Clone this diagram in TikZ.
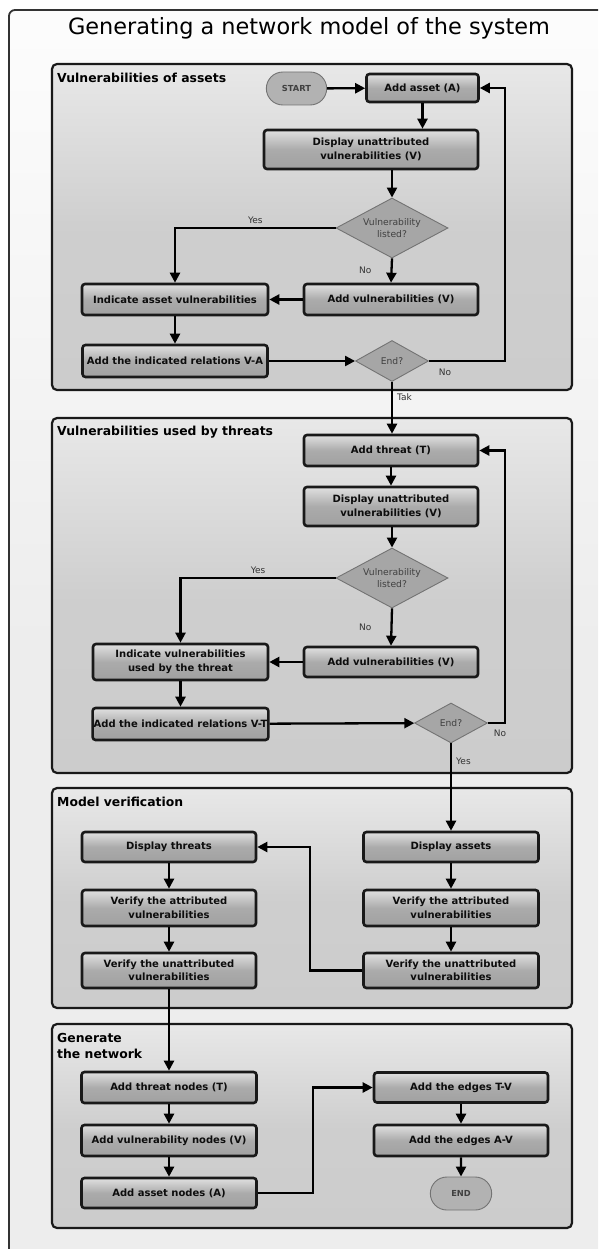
\documentclass[tikz,border=0pt]{standalone}
\usepackage{fontspec}
\setmainfont{DejaVu Sans}
\usetikzlibrary{arrows.meta, positioning, shapes.geometric, shapes.misc}

\begin{document}
\begin{tikzpicture}[x=1pt, y=-1pt,
    frame/.style={draw=black!80, line width=1.8pt, rounded corners=6pt, top color=black!1, bottom color=black!7, middle color=black!7},
    section/.style={draw=black!90, line width=2.2pt, rounded corners=5pt, top color=black!9, bottom color=black!20, middle color=black!19},
    section label/.style={anchor=west, align=left, inner sep=0pt, font=\bfseries\fontsize{12.4}{16}\selectfont},
    task/.style={draw=black!90, line width=2.6pt, rounded corners=3pt, top color=black!12, bottom color=black!37, middle color=black!33,
        align=center, inner xsep=1pt, inner ysep=0pt, text=black!95, font=\bfseries\fontsize{10}{13.5}\selectfont},
    decision/.style={diamond, draw=black!55, line width=0.9pt, fill=black!35, aspect=1.85, inner sep=0pt, align=center,
        text=black!75, font=\fontsize{9.2}{12}\selectfont},
    terminal/.style={rounded rectangle, draw=black!55, line width=0.9pt, fill=black!30, minimum width=67pt, minimum height=33pt,
        text=black!75, font=\bfseries\fontsize{8.3}{10}\selectfont},
    flow/.style={line width=2.3pt, -{Triangle[length=10pt, width=10pt]}},
    answer/.style={inner sep=0pt, text=black!80, font=\fontsize{9}{10}\selectfont}]

    % Page and outer frame
    \useasboundingbox (0,0) rectangle (598,1249);
    \clip (0,0) rectangle (598,1249);
    \fill[white] (0,0) rectangle (598,1249);
    \path[frame] (9,10) rectangle (620,1270);
    \node (title) at (309,28) {\fontsize{22.4}{26}\selectfont Generating a network model of the system};

    % Section frames
    \path[section] (52,64) rectangle (572,390);
    \node[section label] (lab1) at (57,78) {Vulnerabilities of assets};
    \path[section] (52,418) rectangle (572,773);
    \node[section label] (lab2) at (57,432) {Vulnerabilities used by threats};
    \path[section] (52,788) rectangle (572,1008);
    \node[section label] (lab3) at (57,802) {Model verification};
    \path[section] (52,1024) rectangle (572,1228);
    \node[section label] (lab4) at (57,1046) {Generate\\the network};

    % Vulnerabilities of assets
    \node[terminal] (start) at (296.5,88.5) {START};
    \node[task, minimum width=112pt, minimum height=28pt] (addA) at (422.5,88) {Add asset (A)};
    \node[task, minimum width=214pt, minimum height=39pt] (dispV1) at (371,149.5) {Display unattributed\\vulnerabilities (V)};
    \node[decision, minimum width=112pt, minimum height=60pt] (list1) at (392,228) {Vulnerability\\listed?};
    \node[task, minimum width=174pt, minimum height=31pt] (addV1) at (391,299.5) {Add vulnerabilities (V)};
    \node[task, minimum width=186pt, minimum height=31pt] (ind1) at (175,299.5) {Indicate asset vulnerabilities};
    \node[task, minimum width=185pt, minimum height=32pt] (rel1) at (175,361) {Add the indicated relations V-A};
    \node[decision, minimum width=73pt, minimum height=41pt] (end1) at (392,361) {End?};
    \coordinate (loop1) at (505,88);

    \draw[flow] (start) -- (addA);
    \draw[flow] (addA.south) -- (addA.south |- dispV1.north);
    \draw[flow] (dispV1.south -| list1.north) -- (list1.north);
    \draw[flow] (list1.west) -| node[answer, pos=0.25, above=3pt] (yes1) {Yes} (ind1.north);
    \draw[flow] (list1.south) -- node[answer, left=19pt] (no1) {No} (addV1.north);
    \draw[flow] (addV1) -- (ind1);
    \draw[flow] (ind1) -- (rel1);
    \draw[flow] (rel1) -- (end1);
    \draw[flow] (end1.east) -| (loop1) -- (addA.east);
    \node[answer] (no2) at (445,372) {No};

    % Vulnerabilities used by threats
    \node[task, minimum width=174pt, minimum height=31pt] (addT) at (391,450.5) {Add threat (T)};
    \node[task, minimum width=174pt, minimum height=39pt] (dispV2) at (391,506.5) {Display unattributed\\vulnerabilities (V)};
    \node[decision, minimum width=112pt, minimum height=60pt] (list2) at (392,578) {Vulnerability\\listed?};
    \node[task, minimum width=174pt, minimum height=30pt] (addV2) at (391,662) {Add vulnerabilities (V)};
    \node[task, minimum width=175pt, minimum height=36pt] (ind2) at (180.5,662) {Indicate vulnerabilities\\used by the threat};
    \node[task, minimum width=175pt, minimum height=32pt] (rel2) at (180.5,724) {Add the indicated relations V-T};
    \node[decision, minimum width=73pt, minimum height=40pt] (end2) at (451,723) {End?};
    \coordinate (loop2) at (505,450.5);

    \draw[flow] (end1.south) -- node[answer, pos=0.3, right=4pt] (tak) {Tak} (end1.south |- addT.north);
    \draw[flow] (addT) -- (dispV2);
    \draw[flow] (dispV2.south -| list2.north) -- (list2.north);
    \draw[flow] (list2.west) -| node[answer, pos=0.25, above=3pt] (yes2) {Yes} (ind2.north);
    \draw[flow] (list2.south) -- node[answer, left=19pt] (no3) {No} (addV2.north);
    \draw[flow] (addV2) -- (ind2);
    \draw[flow] (ind2) -- (rel2);
    \draw[flow] (rel2) -- (end2);
    \draw[flow] (end2.east) -| (loop2) -- (addT.east);
    \node[answer] (no4) at (500,733) {No};

    % Model verification
    \node[task, minimum width=174pt, minimum height=30pt] (dThr) at (169,847) {Display threats};
    \node[task, minimum width=175pt, minimum height=30pt] (dAss) at (451,847) {Display assets};
    \node[task, minimum width=174pt, minimum height=36pt] (vAttL) at (169,908) {Verify the attributed\\vulnerabilities};
    \node[task, minimum width=175pt, minimum height=36pt] (vAttR) at (451,908) {Verify the attributed\\vulnerabilities};
    \node[task, minimum width=174pt, minimum height=35pt] (vUnL) at (169,970.5) {Verify the unattributed\\vulnerabilities};
    \node[task, minimum width=175pt, minimum height=35pt] (vUnR) at (451,970.5) {Verify the unattributed\\vulnerabilities};
    \coordinate (back) at (310,847);

    \draw[flow] (end2.south) -- node[answer, pos=0.2, right=4pt] (yes3) {Yes} (dAss.north);
    \draw[flow] (vUnR.west) -| (back) -- (dThr.east);

    % Generate the network
    \node[task, minimum width=175pt, minimum height=31pt] (nodeT) at (169,1087.5) {Add threat nodes (T)};
    \node[task, minimum width=175pt, minimum height=31pt] (nodeV) at (169,1140.5) {Add vulnerability nodes (V)};
    \node[task, minimum width=175pt, minimum height=30pt] (nodeA) at (169,1193) {Add asset nodes (A)};
    \node[task, minimum width=174pt, minimum height=30pt] (edgeTV) at (461,1087.5) {Add the edges T-V};
    \node[task, minimum width=174pt, minimum height=31pt] (edgeAV) at (461,1140.5) {Add the edges A-V};
    \node[terminal, minimum width=68pt] (stop) at (461,1193.5) {END};
    \coordinate (jump) at (313,1087.5);

    \foreach \a/\b in {dAss/vAttR, vAttR/vUnR, dThr/vAttL, vAttL/vUnL, vUnL/nodeT, nodeT/nodeV, nodeV/nodeA, edgeTV/edgeAV, edgeAV/stop}
        \draw[flow] (\a) -- (\b);
    \draw[flow] (nodeA.east) -| (jump) -- (edgeTV.west);
\end{tikzpicture}
\end{document}
